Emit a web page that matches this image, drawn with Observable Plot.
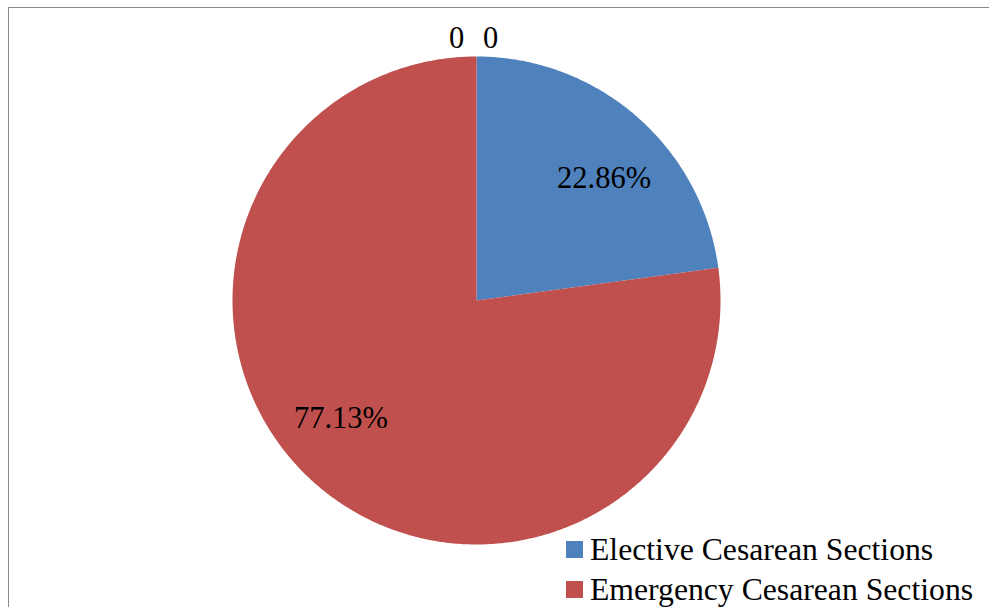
<!DOCTYPE html>
<html>
<head>
<meta charset="utf-8">
<script src="https://cdn.jsdelivr.net/npm/d3@7"></script>
<script src="https://cdn.jsdelivr.net/npm/@observablehq/plot@0.6"></script>
<style>
  html, body { margin: 0; padding: 0; background: #fff; overflow: hidden; width: 989px; height: 607px; }
  #wrap { position: relative; width: 989px; height: 607px; }
  #frame { position: absolute; left: 8px; top: 7px; width: 2000px; height: 2000px;
           border-left: 1px solid #898989; border-top: 1px solid #898989; box-sizing: border-box; }
  #chart { position: absolute; left: 0; top: 0; }
  #legend { position: absolute; left: 566px; top: 530px; font-family: "Liberation Serif", "Times New Roman", serif;
            font-size: 31.7px; color: #000; }
  .item { position: relative; height: 40px; line-height: 40px; white-space: nowrap; padding-left: 24px; }
  .sw { position: absolute; left: 0; top: 11px; width: 17px; height: 17px; }
</style>
</head>
<body>
<div id="wrap">
  <div id="frame"></div>
  <div id="chart"></div>
  <div id="legend"></div>
</div>
<script>
// Data
const categories = ["Elective Cesarean Sections", "Emergency Cesarean Sections"];
const values = [22.86, 77.13];
const labels = ["22.86%", "77.13%"];
const colors = ["#4F81BD", "#C0504D"];
const zeroLabels = ["0", "0"];

// Pie geometry from data via d3.pie (angle 0 = 12 o'clock, clockwise)
const arcs = d3.pie().sort(null).value(d => d.value)(
  categories.map((c, i) => ({category: c, value: values[i], label: labels[i]}))
);

const pts = [];
arcs.forEach(a => {
  const n = Math.max(2, Math.ceil((a.endAngle - a.startAngle) / 0.01));
  pts.push({category: a.data.category, x: 0, y: 0});
  for (let k = 0; k <= n; k++) {
    const t = a.startAngle + (a.endAngle - a.startAngle) * k / n;
    pts.push({category: a.data.category, x: Math.sin(t), y: Math.cos(t)});
  }
  pts.push({category: a.data.category, x: 0, y: 0});
});

const shift = 0.113; // label rotation like the source chart
const labelPts = arcs.map(a => {
  const m = (a.startAngle + a.endAngle) / 2 + shift;
  return {x: 0.73 * Math.sin(m), y: 0.73 * Math.cos(m), label: a.data.label};
});
const zeroPts = zeroLabels.map(l => ({x: 0, y: 1.074, label: l}));

const font = {fill: "#000", fontSize: 30.5, fontFamily: "Liberation Serif", textAnchor: "middle", lineAnchor: "middle"};

const chart = Plot.plot({
  width: 989,
  height: 607,
  margin: 0,
  style: {background: "transparent", overflow: "visible"},
  x: {domain: [-1, 1], range: [232, 720], axis: null},
  y: {domain: [-1, 1], range: [544, 56], axis: null},
  color: {domain: categories, range: colors},
  marks: [
    Plot.line(pts, {x: "x", y: "y", z: "category", fill: "category", stroke: "none", curve: "linear"}),
    Plot.text(labelPts, {x: "x", y: "y", text: "label", dx: -4, dy: -2.5, ...font}),
    Plot.text([zeroPts[0]], {x: "x", y: "y", text: "label", dx: -20, ...font}),
    Plot.text([zeroPts[1]], {x: "x", y: "y", text: "label", dx: 14, ...font})
  ]
});
document.getElementById("chart").appendChild(chart);

const legend = document.getElementById("legend");
categories.forEach((c, i) => {
  const row = document.createElement("div");
  row.className = "item";
  const sw = document.createElement("span");
  sw.className = "sw";
  sw.style.background = colors[i];
  row.appendChild(sw);
  row.appendChild(document.createTextNode(c));
  legend.appendChild(row);
});
</script>
</body>
</html>
